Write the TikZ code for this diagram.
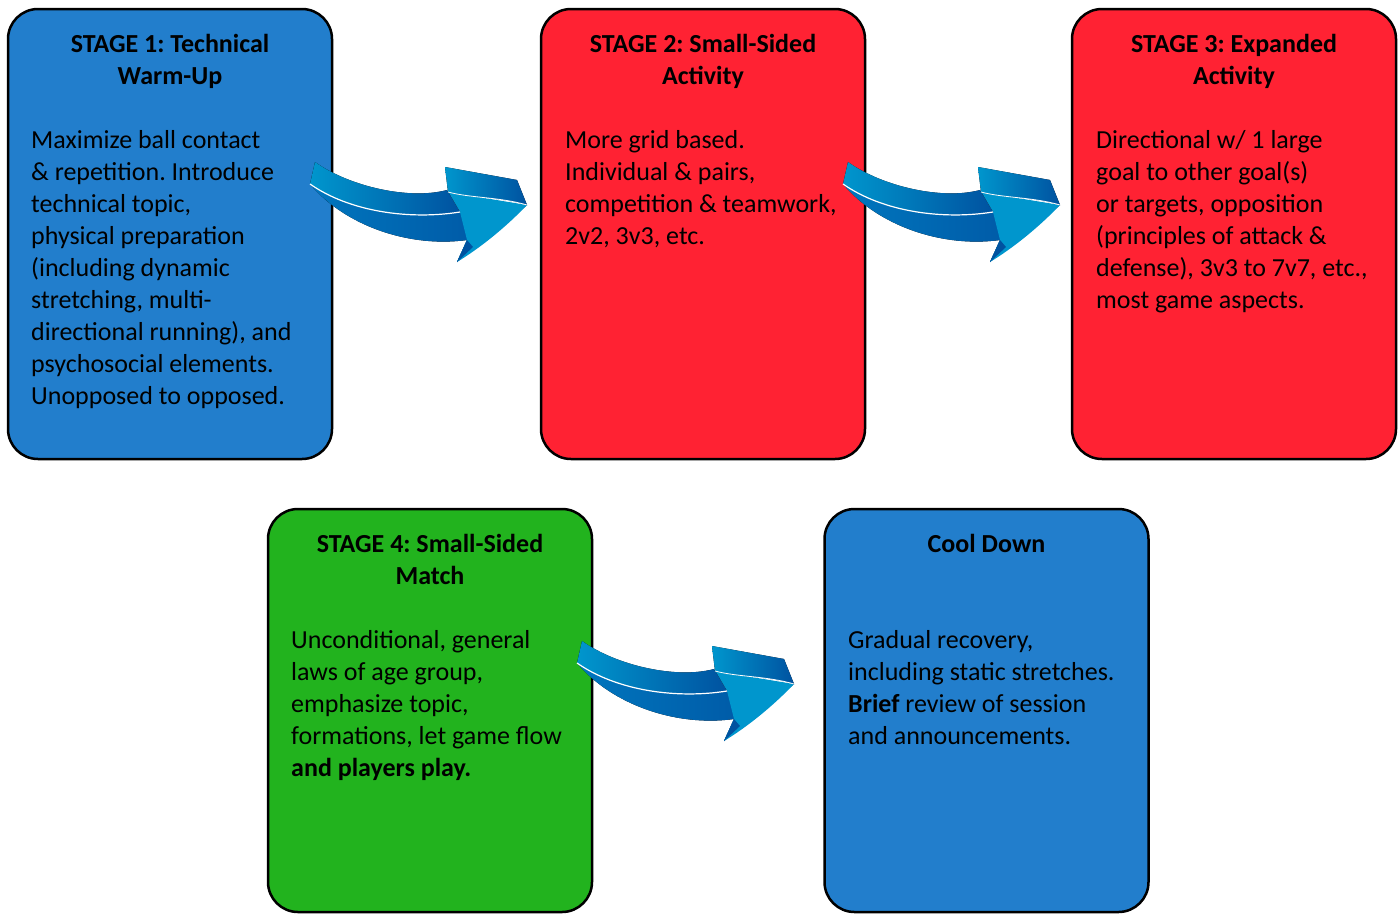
\documentclass[tikz,border=0pt]{standalone}
\usepackage{fontspec}
\setmainfont{Carlito}
\frenchspacing
\definecolor{boxblue}{RGB}{34,126,204}
\definecolor{boxred}{RGB}{255,34,51}
\definecolor{boxgreen}{RGB}{34,179,30}
\definecolor{arrlight}{RGB}{0,150,205}
\definecolor{arrmid}{RGB}{0,118,190}
\definecolor{arrdark}{RGB}{0,82,160}
\tikzset{
  stagebox/.style={draw=black, line width=2.5pt, rounded corners=30pt, minimum width=324pt, inner sep=0pt},
  txt/.style={font=\fontsize{26}{32}\selectfont, inner sep=0pt, align=left, anchor=north west},
  ttl/.style={font=\fontsize{26}{32}\selectfont\bfseries, inner sep=0pt, align=center, anchor=north},
  hilite/.style={draw=white, line width=1.2pt},
}
\newcommand{\stagearrow}[1]{%
  \begin{scope}[shift={#1}]
    % underside
    \fill[left color=arrmid, right color=arrdark]
      (310,184) .. controls (345,226) and (410,248) .. (467,240) -- (457,262) -- (527,205)
      -- (460,212) .. controls (420,219) and (350,212) .. (310,184) -- cycle;
    % head front face
    \fill[arrlight] (448,192) -- (527,205) .. controls (505,228) and (480,248) .. (457,262) -- (467,240) -- (460,212) -- cycle;
    \fill[arrdark] (467,240) -- (457,262) -- (473,247) -- cycle;
    % shaft top face
    \fill[left color=arrlight, right color=arrdark]
      (315,162) .. controls (350,187) and (410,200) .. (447,190) -- (460,212)
      .. controls (410,220) and (350,212) .. (310,184) -- cycle;
    % head top face
    \fill[left color=arrlight, right color=arrdark]
      (445,167) -- (517,180) -- (527,205) .. controls (500,197) and (470,198) .. (448,192) -- cycle;
    \draw[hilite] (310,184) .. controls (350,212) and (410,220) .. (460,212);
    \draw[hilite, line width=0.8pt] (448,192) .. controls (470,198) and (500,197) .. (527,205);
  \end{scope}}
\begin{document}
\begin{tikzpicture}[x=1pt, y=-1pt]
\useasboundingbox (0,0) rectangle (1398,914);
\fill[white] (0,0) rectangle (1398,914);

\node[stagebox, fill=boxblue, minimum height=450pt] (s1) at (170,234) {};
\node[stagebox, fill=boxred, minimum height=450pt] (s2) at (703,234) {};
\node[stagebox, fill=boxred, minimum height=450pt] (s3) at (1234,234) {};
\node[stagebox, fill=boxgreen, minimum height=403pt] (s4) at (430,710.5) {};
\node[stagebox, fill=boxblue, minimum height=403pt] (s5) at (986.5,710.5) {};

\node[ttl] (t1) at (170,29.6) {\strut STAGE 1: Technical\\Warm-Up};
\node[ttl] (t2) at (703,29.6) {\strut STAGE 2: Small-Sided\\Activity};
\node[ttl] (t3) at (1234,29.6) {\strut STAGE 3: Expanded\\Activity};
\node[ttl] (t4) at (430,529.6) {\strut STAGE 4: Small-Sided\\Match};
\node[ttl] (t5) at (986.5,529.6) {\strut Cool Down};

\node[txt] (b1) at (31,125.6) {\strut Maximize ball contact\\
\& repetition. Introduce\\
technical topic,\\
physical preparation\\
(including dynamic\\
stretching, multi-\\
directional running), and\\
psychosocial elements.\\
Unopposed to opposed.};
\node[txt] (b2) at (565,125.6) {\strut More grid based.\\
Individual \& pairs,\\
competition \& teamwork,\\
2v2, 3v3, etc.};
\node[txt] (b3) at (1096,125.6) {\strut Directional w/ 1 large\\
goal to other goal(s)\\
or targets, opposition\\
(principles of attack \&\\
defense), 3v3 to 7v7, etc.,\\
most game aspects.};
\node[txt] (b4) at (291,625.6) {\strut Unconditional, general\\
laws of age group,\\
emphasize topic,\\
formations, let game flow\\
\textbf{and players play.}};
\node[txt] (b5) at (848,625.6) {\strut Gradual recovery,\\
including static stretches.\\
\textbf{Brief} review of session\\
and announcements.};

\stagearrow{(0,0)}
\stagearrow{(533,0)}
\stagearrow{(267,479)}
\end{tikzpicture}
\end{document}
